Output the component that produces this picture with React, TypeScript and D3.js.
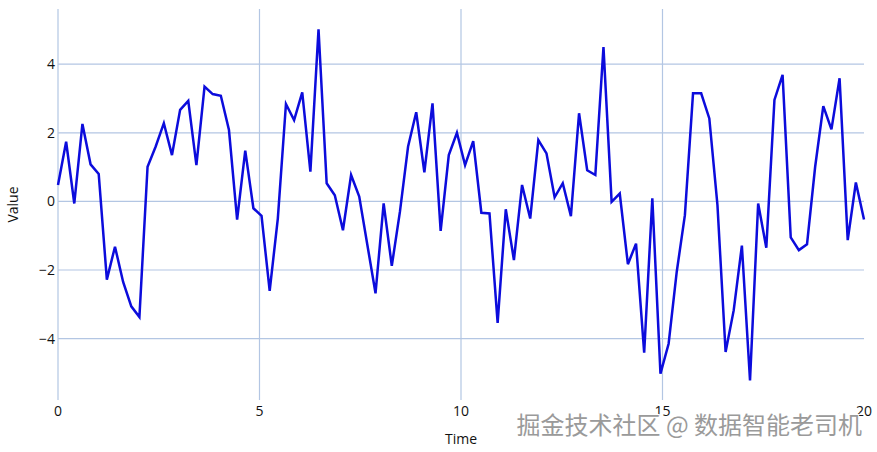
import React from "react";
import * as d3 from "d3";

const values: number[] = [
  0.48, 1.74, -0.06, 2.26, 1.08, 0.8, -2.28, -1.32, -2.35, -3.06,
  -3.37, 1.01, 1.6, 2.28, 1.35, 2.67, 2.93, 1.06, 3.35, 3.13,
  3.08, 2.08, -0.53, 1.48, -0.2, -0.42, -2.61, -0.5, 2.84, 2.37,
  3.18, 0.87, 5.02, 0.53, 0.18, -0.84, 0.77, 0.14, -1.27, -2.68,
  -0.06, -1.88, -0.3, 1.6, 2.6, 0.85, 2.86, -0.86, 1.35, 2.0,
  1.06, 1.76, -0.33, -0.35, -3.54, -0.23, -1.71, 0.48, -0.5, 1.79,
  1.4, 0.12, 0.53, -0.43, 2.57, 0.91, 0.77, 4.5, -0.01, 0.23,
  -1.83, -1.23, -4.41, 0.09, -5.02, -4.15, -2.05, -0.4, 3.15, 3.15,
  2.42, -0.11, -4.39, -3.17, -1.29, -5.22, -0.06, -1.35, 2.96, 3.69,
  -1.05, -1.42, -1.25, 1.01, 2.78, 2.1, 3.59, -1.13, 0.55, -0.53,
];
const times: number[] = values.map((_, i) => (i * 20) / (values.length - 1));
const xTicks: number[] = [0, 5, 10, 15, 20];
const yTicks: number[] = [-4, -2, 0, 2, 4];
const xLabel = "Time";
const yLabel = "Value";
const watermark = "掘金技术社区 @ 数据智能老司机";

const W = 877;
const H = 452;
const left = 58;
const right = 864;
const top = 9;
const bottom = 400;
const FONT = "'Open Sans', 'Noto Sans', sans-serif";
const GRID = "#b3c6e3";

export default function App() {
  const x = d3.scaleLinear().domain([0, 20]).range([left, right]);
  const y = d3.scaleLinear().domain([-5.79, 5.61]).range([bottom, top]);
  const line = d3
    .line<number>()
    .x((_, i) => x(times[i]))
    .y((d) => y(d));

  return (
    <svg
      width={W}
      height={H}
      style={{ position: "absolute", left: 0, top: 0, background: "#fff" }}
      fontFamily={FONT}
    >
      {yTicks.map((t) => (
        <line key={"gy" + t} x1={left} x2={right} y1={y(t)} y2={y(t)} stroke={GRID} strokeWidth={1.2} />
      ))}
      {xTicks
        .filter((t) => t < 20)
        .map((t) => (
          <line key={"gx" + t} x1={x(t)} x2={x(t)} y1={top} y2={bottom} stroke={GRID} strokeWidth={1.2} />
        ))}
      <path d={line(values) || ""} fill="none" stroke="#0c0cdc" strokeWidth={2.5} strokeLinejoin="miter" />
      {yTicks.map((t) => (
        <text key={"ty" + t} x={left - 3} y={y(t)} dy="0.35em" textAnchor="end" fontSize={14} fill="#111">
          {d3.format("")(t).replace("-", "\u2212")}
        </text>
      ))}
      {xTicks.map((t) => (
        <text key={"tx" + t} x={x(t)} y={416} textAnchor="middle" fontSize={14} fill="#111">
          {t}
        </text>
      ))}
      <text x={(left + right) / 2} y={444} textAnchor="middle" fontSize={14} fill="#111">
        {xLabel}
      </text>
      <text
        transform={`translate(18,${(top + bottom) / 2}) rotate(-90)`}
        textAnchor="middle"
        fontSize={14}
        fill="#111"
      >
        {yLabel}
      </text>
      <text
        x={862}
        y={434}
        textAnchor="end"
        fontSize={24}
        fontFamily="'Noto Sans CJK SC', sans-serif"
        fill="#9a9a9a"
        stroke="#ffffff"
        strokeWidth={2}
        style={{ paintOrder: "stroke" }}
      >
        {watermark}
      </text>
    </svg>
  );
}
